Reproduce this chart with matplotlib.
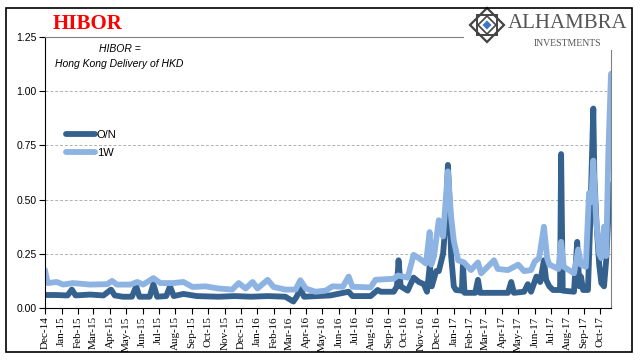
import pandas as pd
import matplotlib.pyplot as plt
import matplotlib.dates as mdates
import matplotlib.patches as mpatches

# 資料：HIBOR 隔夜 (O/N) 與一週 (1W)
on_dates = ['2014-12-01', '2014-12-20', '2015-01-12', '2015-01-20', '2015-01-27', '2015-02-23',
            '2015-03-20', '2015-04-03', '2015-04-10', '2015-04-25', '2015-05-12', '2015-05-20',
            '2015-05-26', '2015-06-14', '2015-06-21', '2015-06-28', '2015-07-15', '2015-07-22',
            '2015-07-29', '2015-08-16', '2015-09-10', '2015-10-20', '2015-11-20', '2015-12-20',
            '2016-01-20', '2016-02-22', '2016-03-08', '2016-03-14', '2016-03-21', '2016-03-28',
            '2016-05-16', '2016-06-19', '2016-06-26', '2016-07-30', '2016-08-12', '2016-08-18',
            '2016-09-11', '2016-09-17', '2016-09-20', '2016-09-24', '2016-10-07', '2016-10-18',
            '2016-10-28', '2016-11-06', '2016-11-12', '2016-11-17', '2016-11-21', '2016-11-29',
            '2016-12-04', '2016-12-12', '2016-12-17', '2016-12-21', '2016-12-24', '2016-12-27',
            '2017-01-01', '2017-01-05', '2017-01-16', '2017-01-18', '2017-01-21', '2017-02-10',
            '2017-02-15', '2017-02-19', '2017-04-12', '2017-04-18', '2017-04-23', '2017-05-12',
            '2017-05-19', '2017-05-25', '2017-06-04', '2017-06-11', '2017-06-18', '2017-06-22',
            '2017-06-28', '2017-07-05', '2017-07-18', '2017-07-20', '2017-07-23', '2017-08-13',
            '2017-08-19', '2017-08-23', '2017-08-26', '2017-08-30', '2017-09-08', '2017-09-12',
            '2017-09-18', '2017-09-20', '2017-09-24', '2017-09-29', '2017-10-03', '2017-10-08',
            '2017-10-12', '2017-10-16', '2017-10-21']
on_vals = [0.060, 0.060, 0.058, 0.085, 0.058, 0.062,
           0.058, 0.085, 0.058, 0.052, 0.052, 0.100,
           0.052, 0.052, 0.110, 0.052, 0.055, 0.100,
           0.055, 0.065, 0.055, 0.052, 0.055, 0.052,
           0.055, 0.052, 0.030, 0.052, 0.088, 0.052,
           0.058, 0.075, 0.055, 0.055, 0.083, 0.075,
           0.075, 0.100, 0.220, 0.100, 0.080, 0.140,
           0.120, 0.110, 0.075, 0.190, 0.100, 0.170,
           0.170, 0.250, 0.400, 0.660, 0.500, 0.240,
           0.100, 0.083, 0.080, 0.200, 0.070, 0.070,
           0.130, 0.070, 0.070, 0.120, 0.070, 0.075,
           0.110, 0.075, 0.145, 0.120, 0.220, 0.130,
           0.100, 0.083, 0.083, 0.710, 0.080, 0.075,
           0.305, 0.100, 0.145, 0.083, 0.083, 0.375,
           0.920, 0.600, 0.390, 0.200, 0.115, 0.100,
           0.220, 0.420, 0.570]

w1_dates = ['2014-12-01', '2014-12-06', '2014-12-23', '2015-01-04', '2015-01-22', '2015-02-23',
            '2015-03-27', '2015-04-05', '2015-04-14', '2015-05-09', '2015-05-22', '2015-06-02',
            '2015-06-21', '2015-07-04', '2015-07-28', '2015-08-16', '2015-09-02', '2015-09-26',
            '2015-10-20', '2015-11-15', '2015-11-27', '2015-12-10', '2015-12-23', '2016-01-01',
            '2016-01-20', '2016-01-31', '2016-02-22', '2016-03-12', '2016-03-21', '2016-03-31',
            '2016-04-18', '2016-05-07', '2016-05-20', '2016-06-08', '2016-06-19', '2016-06-26',
            '2016-07-30', '2016-08-08', '2016-09-11', '2016-09-19', '2016-10-07', '2016-10-18',
            '2016-10-28', '2016-11-10', '2016-11-17', '2016-11-20', '2016-11-25', '2016-12-04',
            '2016-12-12', '2016-12-17', '2016-12-21', '2016-12-27', '2017-01-01', '2017-01-09',
            '2017-01-20', '2017-02-02', '2017-02-15', '2017-02-21', '2017-03-17', '2017-03-24',
            '2017-04-12', '2017-05-01', '2017-05-12', '2017-05-25', '2017-06-01', '2017-06-09',
            '2017-06-18', '2017-06-24', '2017-06-28', '2017-07-07', '2017-07-15', '2017-07-20',
            '2017-07-25', '2017-08-13', '2017-08-21', '2017-08-26', '2017-09-04', '2017-09-10',
            '2017-09-14', '2017-09-18', '2017-09-23', '2017-09-29', '2017-10-03', '2017-10-08',
            '2017-10-12', '2017-10-16', '2017-10-21']
w1_vals = [0.175, 0.115, 0.120, 0.108, 0.115, 0.108,
           0.110, 0.125, 0.108, 0.108, 0.120, 0.108,
           0.138, 0.115, 0.115, 0.120, 0.097, 0.100,
           0.090, 0.085, 0.115, 0.090, 0.120, 0.090,
           0.130, 0.097, 0.085, 0.085, 0.128, 0.090,
           0.075, 0.080, 0.100, 0.098, 0.145, 0.098,
           0.095, 0.130, 0.135, 0.150, 0.140, 0.245,
           0.230, 0.205, 0.350, 0.200, 0.237, 0.405,
           0.330, 0.500, 0.630, 0.420, 0.310, 0.220,
           0.210, 0.175, 0.210, 0.160, 0.220, 0.180,
           0.175, 0.200, 0.170, 0.175, 0.215, 0.230,
           0.375, 0.230, 0.200, 0.190, 0.180, 0.305,
           0.190, 0.160, 0.270, 0.200, 0.190, 0.530,
           0.490, 0.680, 0.420, 0.250, 0.230, 0.375,
           0.240, 0.710, 1.080]

y_ticks = [0.00, 0.25, 0.50, 0.75, 1.00, 1.25]

W, H = 641, 361
fig = plt.figure(figsize=(W / 100, H / 100), dpi=100)
ax = fig.add_axes([45 / W, 1 - 308 / H, (611 - 45) / W, (308 - 37) / H])

ax.plot(pd.to_datetime(on_dates), on_vals, color='#35618f', lw=4.2, label='O/N',
        solid_joinstyle='round', solid_capstyle='round')
ax.plot(pd.to_datetime(w1_dates), w1_vals, color='#8db3e2', lw=4.2, label='1W',
        solid_joinstyle='round', solid_capstyle='round')

ax.set_xlim(pd.Timestamp('2014-12-01'), pd.Timestamp('2017-10-21'))
ax.set_ylim(0, 1.25)
ax.set_yticks(y_ticks)
ax.set_yticklabels([f'{v:.2f}' for v in y_ticks], fontsize=7.5, family='Liberation Sans')
ax.yaxis.grid(True, color='#b0b0b0', lw=0.7, ls=(0, (3, 2)))
ax.set_axisbelow(True)

ax.xaxis.set_major_locator(mdates.MonthLocator())
ax.xaxis.set_major_formatter(mdates.DateFormatter('%b-%y'))
for lbl in ax.get_xticklabels():
    lbl.set_rotation(90)
    lbl.set_family('Liberation Serif')
    lbl.set_fontsize(8)
ax.tick_params(axis='both', direction='out', length=4, width=0.8, pad=2)

ax.spines['left'].set_color('black')
ax.spines['bottom'].set_color('black')
ax.spines['top'].set_color('#808080')
ax.spines['right'].set_color('#808080')

ax.legend(loc='upper left', bbox_to_anchor=(0.02, 0.695), frameon=False,
          handlelength=2.6, handletextpad=0.15, labelspacing=0.75,
          prop={'family': 'Liberation Sans', 'size': 8})

ax.text(0.095, 0.955, 'HIBOR =', transform=ax.transAxes, fontsize=7.5, style='italic',
        family='Liberation Sans', ha='left', va='center')
ax.text(0.017, 0.9, 'Hong Kong Delivery of HKD', transform=ax.transAxes, fontsize=7.5,
        style='italic', family='Liberation Sans', ha='left', va='center')

# 標題
fig.text(53 / W, 1 - 24 / H, 'HIBOR', color='red', fontsize=15, fontweight='bold',
         family='Liberation Serif', ha='left', va='center')

# 右上角標誌
fig.patches.append(mpatches.Rectangle((464 / W, 1 - 50 / H), (630 - 464) / W, 42 / H,
                                      transform=fig.transFigure, fc='white', ec='none', zorder=2))
cx, cy, r = 487, 25, 17
outer = [(cx, cy - r), (cx + r, cy), (cx, cy + r), (cx - r, cy)]
fig.patches.append(mpatches.Polygon([(x / W, 1 - y / H) for x, y in outer], closed=True,
                                    transform=fig.transFigure, fc='white', ec='#444444', lw=1.6, zorder=3))
s = 10
square = [(cx - s, cy - s), (cx + s, cy - s), (cx + s, cy + s), (cx - s, cy + s)]
fig.patches.append(mpatches.Polygon([(x / W, 1 - y / H) for x, y in square], closed=True,
                                    transform=fig.transFigure, fc='none', ec='#444444', lw=1.4, zorder=3))
m = 9
mid = [(cx, cy - m), (cx + m, cy), (cx, cy + m), (cx - m, cy)]
fig.patches.append(mpatches.Polygon([(x / W, 1 - y / H) for x, y in mid], closed=True,
                                    transform=fig.transFigure, fc='none', ec='#444444', lw=1.2, zorder=3))
c = 4.5
core = [(cx, cy - c), (cx + c, cy), (cx, cy + c), (cx - c, cy)]
fig.patches.append(mpatches.Polygon([(x / W, 1 - y / H) for x, y in core], closed=True,
                                    transform=fig.transFigure, fc='#3d78c2', ec='none', zorder=4))
fig.text(508 / W, 1 - 24 / H, 'ALHAMBRA', color='#555555', fontsize=15,
         family='Liberation Serif', ha='left', va='center', zorder=4)
fig.text(567 / W, 1 - 43 / H, 'INVESTMENTS', color='#555555', fontsize=7,
         family='Liberation Serif', ha='center', va='center', zorder=4)

# 外框
fig.patches.append(mpatches.Rectangle((6 / W, 1 - 352 / H), (632 - 6) / W, (352 - 8) / H,
                                      transform=fig.transFigure, fill=False, ec='black', lw=1.2, zorder=5))

plt.savefig('out.png', dpi=100)
plt.close()
